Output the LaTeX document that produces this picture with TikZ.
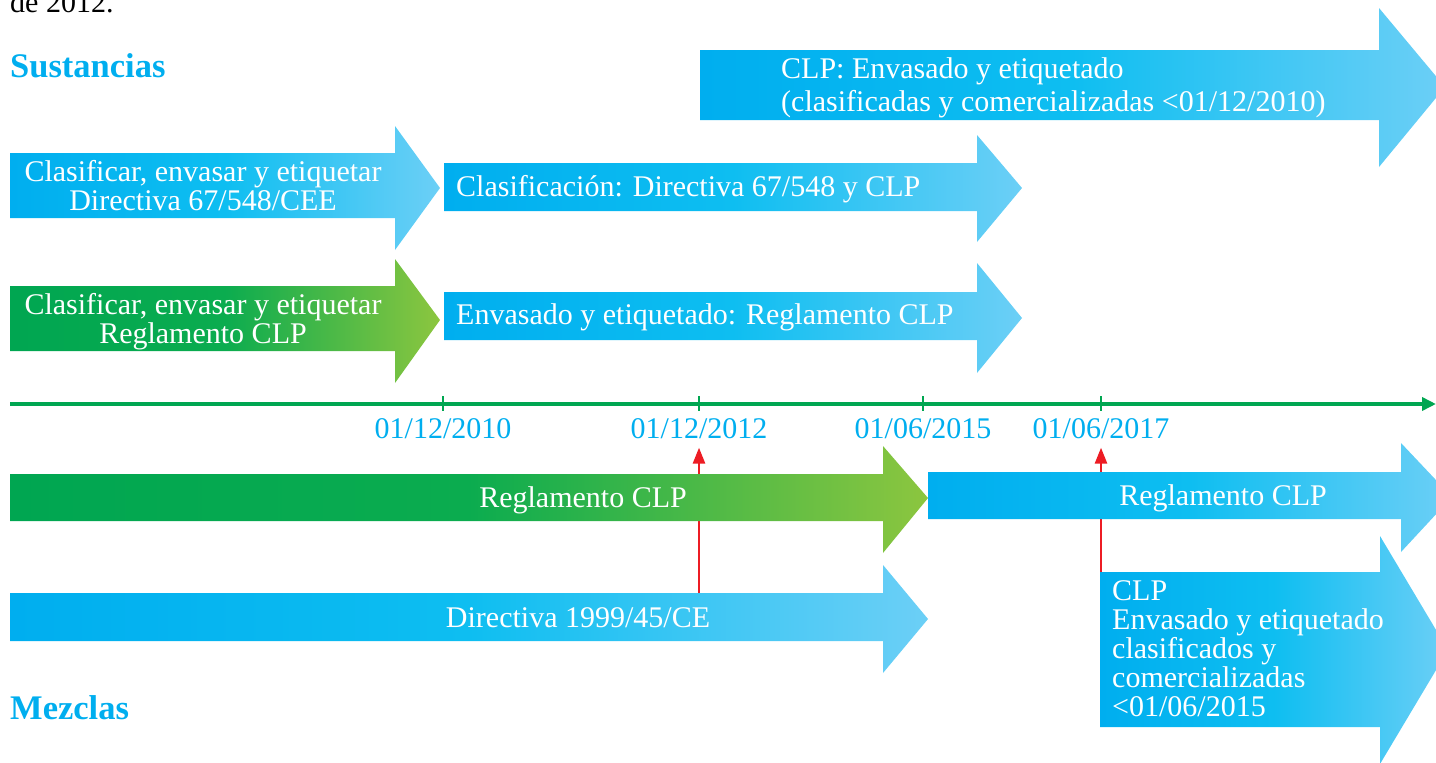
\documentclass[tikz,border=0pt]{standalone}
\usepackage{fontspec}
\setmainfont{Liberation Serif}
\usetikzlibrary{positioning,arrows.meta,backgrounds}
\definecolor{clpcyan}{HTML}{00AEEF}
\definecolor{clpmid}{HTML}{0EBEF1}
\definecolor{clplight}{HTML}{6CCFF6}
\definecolor{clpgreen}{HTML}{00A651}
\definecolor{clpgmid}{HTML}{0BAC4F}
\definecolor{clpglight}{HTML}{8CC63F}
\definecolor{clpred}{HTML}{ED1C24}

\begin{document}
\begin{tikzpicture}[
x=1pt,y=-1pt,
blueband/.style={
  left color=clpcyan,
  right color=clplight,
  middle color=clpmid
},
greenband/.style={
  left color=clpgreen,
  right color=clpglight,
  middle color=clpgmid
},
txt/.style={
  text=white,
  inner sep=0pt,
  font=\fontsize{30}{29}\selectfont
},
datelbl/.style={
  text=clpcyan,
  inner sep=0pt,
  font=\fontsize{30}{29}\selectfont
},
grouplbl/.style={
  text=clpcyan,
  inner sep=0pt,
  anchor=base west,
  font=\fontsize{34.5}{34.5}\selectfont\bfseries
},
timeline/.style={
  draw=clpgreen,
  line width=3.5pt,
  -{Triangle[length=14pt,width=13pt]}
},
tickmark/.style={
  draw=clpgreen,
  line width=2.5pt
},
redup/.style={
  draw=clpred,
  line width=2.6pt,
  shorten >=9pt,
  -{Triangle[length=16pt,width=12pt]}
},
node distance=14pt
]
\useasboundingbox (0,0) rectangle (1436,763);

\node[anchor=base west,inner sep=0pt,font=\fontsize{30}{29}\selectfont] 
  (prev) at (10,12) {de 2012.};
\node[grouplbl] (sus) at (10,77) {Sustancias};
\node[grouplbl] (mez) at (10,719) {Mezclas};

\shade[blueband] (700,50) -- (1379,50) -- (1379,8) -- (1445,87) -- (1379,167) -- (1379,120) -- (700,120) -- cycle;
\node[txt,align=left,anchor=north west,font=\fontsize{30}{33}\selectfont] 
  (envA) at (781,57) {CLP: Envasado y etiquetado\\(clasificadas y comercializadas <01/12/2010)};

\shade[blueband] (10,153) -- (395,153) -- (395,126) -- (440,188) -- (395,250) -- (395,218) -- (10,218) -- cycle;
\node[txt,align=center,anchor=north] 
  (dirA) at (203,160) {Clasificar, envasar y etiquetar\\Directiva 67/548/CEE};

\shade[blueband] (444,163) -- (977,163) -- (977,135) -- (1022,188) -- (977,242) -- (977,211) -- (444,211) -- cycle;
\node[txt,anchor=base west] 
  (clasif) at (456,196) {Clasificación: Directiva 67/548 y CLP};

\shade[greenband] (10,286) -- (395,286) -- (395,259) -- (440,320) -- (395,383) -- (395,351) -- (10,351) -- cycle;
\node[txt,align=center,anchor=north] 
  (regA) at (203,293) {Clasificar, envasar y etiquetar\\Reglamento CLP};

\shade[blueband] (444,292) -- (977,292) -- (977,263) -- (1022,318) -- (977,373) -- (977,340) -- (444,340) -- cycle;
\node[txt,anchor=base west] 
  (envB) at (456,324) {Envasado y etiquetado: Reglamento CLP};

\draw[timeline] (10,404) coordinate (t0) -- (1436,404) coordinate (tend);
\coordinate (t2010) at (443,404);
\coordinate (t2012) at (699,404);
\coordinate (t2015) at (923,404);
\coordinate (t2017) at (1101,404);
\draw[tickmark] (t2010) ++(0,-8) -- ++(0,15);
\draw[tickmark] (t2012) ++(0,-8) -- ++(0,15);
\draw[tickmark] (t2015) ++(0,-8) -- ++(0,15);
\draw[tickmark] (t2017) ++(0,-8) -- ++(0,15);
\node[datelbl,below=of t2010] (d2010) {01/12/2010};
\node[datelbl,below=of t2012] (d2012) {01/12/2012};
\node[datelbl,below=of t2015] (d2015) {01/06/2015};
\node[datelbl,below=of t2017] (d2017) {01/06/2017};

\shade[greenband] (10,474) -- (883,474) -- (883,446) -- (928,498) -- (883,553) -- (883,521) -- (10,521) -- cycle;
\node[txt,anchor=base] (regB) at (583,507) {Reglamento CLP};

\shade[blueband] (928,472) -- (1401,472) -- (1401,443) -- (1452,497) -- (1401,552) -- (1401,519) -- (928,519) -- cycle;
\node[txt,anchor=base] (regC) at (1223,505) {Reglamento CLP};

\shade[blueband] (10,593) coordinate (dirtop) -- (883,593) -- (883,565) -- (928,619) -- (883,673) -- (883,641) -- (10,641) -- cycle;
\node[txt,anchor=base] (dirB) at (578,627) {Directiva 1999/45/CE};

\shade[blueband] (1100,572) coordinate (clptop) -- (1380,572) -- (1380,536) -- (1448,650) -- (1380,764) -- (1380,727) -- (1100,727) -- cycle;
\node[txt,align=left,anchor=north west] 
  (envC) at (1112,580) {CLP\\Envasado y etiquetado\\clasificados y\\comercializadas\\<01/06/2015};

\begin{scope}[on background layer]
\draw[redup] (t2012 |- dirtop) -- (d2012.south);
\draw[redup] (t2017 |- clptop) -- (d2017.south);
\end{scope}
\end{tikzpicture}
\end{document}
